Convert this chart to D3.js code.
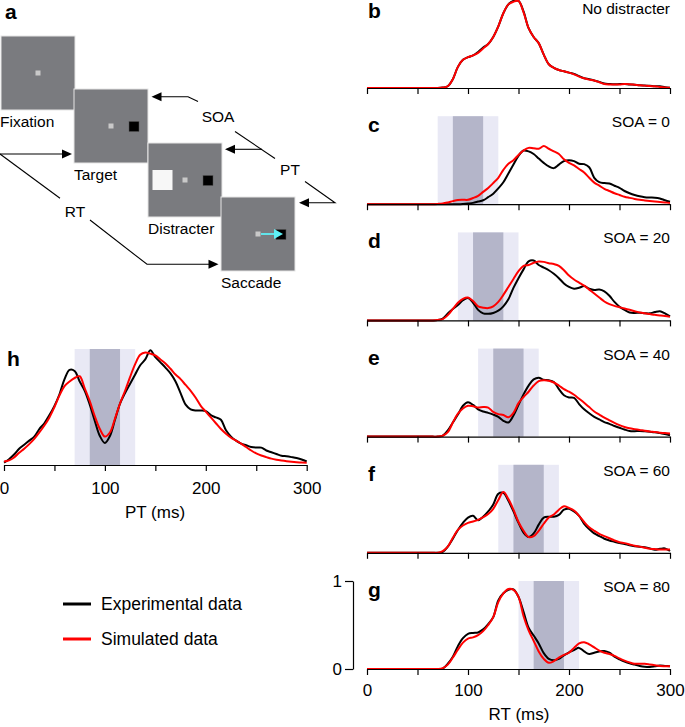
<!DOCTYPE html>
<html><head><meta charset="utf-8">
<script src="https://cdn.jsdelivr.net/npm/d3@7"></script>
<style>body{margin:0;background:#fff}svg{display:block;font-family:"Liberation Sans",Arial,sans-serif}</style>
</head><body><svg id="c" width="685" height="727"></svg>
<script>
// ---------- DATA ----------
const timeGrid = d3.range(0, 301, 5); // ms
const z = n => Array(n).fill(0);
const panelLetters = ["b","c","d","e","f","g"];
const panelTitles = ["No distracter","SOA = 0","SOA = 20","SOA = 40","SOA = 60","SOA = 80"];
const soaValues = [null, 0, 20, 40, 60, 80];
const ptWindowOuter = [70, 130];
const ptWindowInner = [85, 115];
const rtTicks = [0,50,100,150,200,250,300];
const rtTickLabels = [0,100,200,300];
const yTickLabels = [0,1];
const legendLabels = ["Experimental data","Simulated data"];

const expB = [...z(15),0.005,0.02,0.10,0.24,0.32,0.35,0.37,0.41,0.46,0.50,0.58,0.70,0.85,0.95,0.99,0.99,0.87,0.68,0.58,0.51,0.38,0.27,0.23,0.205,0.19,0.175,0.16,0.135,0.11,0.10,0.085,0.07,0.05,0.045,0.042,0.045,0.045,0.04,0.037,0.03,0.027,0.025,0.02,0.02,0.01,0.004];
const simB = [...z(15),0.005,0.02,0.10,0.24,0.32,0.35,0.37,0.40,0.45,0.50,0.58,0.70,0.85,0.95,0.98,0.99,0.86,0.68,0.58,0.51,0.38,0.27,0.23,0.205,0.19,0.175,0.155,0.13,0.11,0.095,0.085,0.065,0.045,0.04,0.04,0.04,0.045,0.043,0.037,0.03,0.027,0.022,0.02,0.012,0.006,0.003];
const expC = [...z(19),0.003,0.008,0.015,0.03,0.045,0.08,0.12,0.18,0.25,0.35,0.45,0.55,0.61,0.60,0.57,0.52,0.47,0.43,0.41,0.45,0.49,0.50,0.49,0.46,0.455,0.42,0.30,0.25,0.24,0.235,0.21,0.185,0.15,0.125,0.105,0.09,0.08,0.076,0.074,0.065,0.045,0.027];
const simC = [...z(14),0.003,0.008,0.02,0.035,0.048,0.05,0.05,0.07,0.095,0.14,0.185,0.24,0.30,0.39,0.46,0.50,0.56,0.61,0.64,0.635,0.63,0.66,0.63,0.60,0.57,0.51,0.47,0.44,0.40,0.36,0.30,0.245,0.21,0.175,0.15,0.125,0.105,0.085,0.072,0.06,0.05,0.043,0.037,0.032,0.026,0.02,0.015];
const expD = [...z(14),0.003,0.02,0.08,0.13,0.175,0.23,0.255,0.20,0.12,0.08,0.075,0.085,0.11,0.16,0.24,0.37,0.48,0.58,0.67,0.68,0.63,0.60,0.57,0.53,0.48,0.42,0.38,0.36,0.37,0.39,0.36,0.345,0.35,0.33,0.28,0.21,0.155,0.12,0.09,0.085,0.087,0.082,0.08,0.095,0.105,0.08,0.045];
const simD = [...z(14),0.005,0.015,0.06,0.13,0.20,0.245,0.26,0.22,0.16,0.145,0.14,0.16,0.21,0.29,0.38,0.47,0.56,0.62,0.63,0.655,0.67,0.665,0.65,0.64,0.62,0.57,0.51,0.465,0.43,0.395,0.35,0.305,0.26,0.215,0.185,0.165,0.15,0.135,0.12,0.105,0.09,0.08,0.072,0.063,0.057,0.05,0.04];
const expE = [...z(15),0.01,0.07,0.16,0.25,0.35,0.39,0.36,0.31,0.285,0.27,0.25,0.225,0.18,0.16,0.24,0.36,0.48,0.58,0.65,0.67,0.645,0.64,0.62,0.54,0.47,0.445,0.44,0.37,0.31,0.265,0.225,0.195,0.165,0.145,0.12,0.10,0.08,0.064,0.062,0.064,0.06,0.055,0.05,0.04,0.028,0.015];
const simE = [...z(15),0.01,0.05,0.16,0.26,0.32,0.35,0.345,0.33,0.335,0.33,0.28,0.255,0.245,0.22,0.27,0.38,0.45,0.51,0.58,0.63,0.64,0.635,0.615,0.58,0.54,0.51,0.475,0.43,0.385,0.335,0.285,0.25,0.215,0.185,0.155,0.13,0.11,0.095,0.085,0.076,0.066,0.058,0.052,0.045,0.04,0.034];
const expF = [...z(15),0.01,0.07,0.16,0.26,0.34,0.40,0.42,0.37,0.41,0.47,0.55,0.67,0.68,0.59,0.47,0.34,0.23,0.18,0.22,0.32,0.40,0.41,0.41,0.43,0.49,0.50,0.47,0.42,0.33,0.27,0.22,0.19,0.16,0.14,0.125,0.11,0.10,0.085,0.075,0.07,0.062,0.05,0.035,0.045,0.05,0.02];
const simF = [...z(15),0.02,0.07,0.17,0.26,0.31,0.34,0.355,0.375,0.405,0.44,0.50,0.60,0.69,0.61,0.49,0.35,0.25,0.18,0.19,0.25,0.33,0.40,0.435,0.49,0.53,0.51,0.48,0.42,0.35,0.29,0.25,0.215,0.19,0.165,0.14,0.12,0.11,0.095,0.08,0.07,0.058,0.047,0.042,0.038,0.038,0.037];
const expG = [...z(15),0.005,0.06,0.14,0.26,0.35,0.40,0.41,0.415,0.45,0.51,0.59,0.78,0.86,0.90,0.905,0.82,0.65,0.47,0.38,0.29,0.18,0.115,0.10,0.115,0.155,0.19,0.215,0.24,0.20,0.17,0.185,0.20,0.205,0.185,0.14,0.11,0.085,0.065,0.05,0.035,0.025,0.022,0.03,0.04,0.035,0.03];
const simG = [...z(15),0.01,0.05,0.13,0.22,0.30,0.345,0.36,0.385,0.43,0.50,0.59,0.76,0.86,0.91,0.90,0.82,0.60,0.44,0.32,0.20,0.115,0.07,0.09,0.13,0.16,0.185,0.24,0.29,0.305,0.28,0.245,0.21,0.185,0.17,0.15,0.12,0.095,0.075,0.06,0.06,0.06,0.052,0.043,0.035,0.032,0.03];
const expH = [0.02,0.05,0.09,0.14,0.175,0.21,0.245,0.31,0.36,0.43,0.51,0.61,0.74,0.82,0.81,0.72,0.64,0.52,0.38,0.25,0.19,0.25,0.39,0.53,0.62,0.70,0.78,0.86,0.91,0.99,0.93,0.885,0.84,0.79,0.72,0.62,0.52,0.48,0.47,0.47,0.465,0.43,0.41,0.39,0.30,0.245,0.21,0.185,0.17,0.155,0.15,0.15,0.125,0.11,0.095,0.08,0.075,0.068,0.06,0.048,0.03];
const simH = [0.03,0.04,0.065,0.105,0.14,0.18,0.225,0.28,0.34,0.41,0.50,0.60,0.68,0.72,0.75,0.765,0.66,0.55,0.42,0.31,0.245,0.28,0.40,0.53,0.64,0.76,0.87,0.95,0.97,0.96,0.945,0.91,0.875,0.83,0.78,0.74,0.69,0.64,0.58,0.51,0.46,0.41,0.36,0.31,0.27,0.235,0.21,0.185,0.155,0.125,0.10,0.082,0.068,0.055,0.046,0.039,0.033,0.028,0.024,0.021,0.02];

const expSeries = [expB, expC, expD, expE, expF, expG];
const simSeries = [simB, simC, simD, simE, simF, simG];

// ---------- DRAW ----------
const svg = d3.select("#c");
const FONT = '"Liberation Sans",Arial,sans-serif';
const BLACK = "#000", RED = "#ff0000", LIGHT = "#e9e9f5", DARK = "#b4b5c9";

const xR = d3.scaleLinear().domain([0,300]).range([367,670]);
const base0 = 88, step = 116.2, unit = 88;

function drawCurves(g, x, y, exp, sim) {
  const line = d3.line().x((d,i)=>x(timeGrid[i])).y(d=>y(d)).curve(d3.curveCatmullRom.alpha(0.5));
  g.append("path").attr("d", line(exp)).attr("fill","none").attr("stroke",BLACK).attr("stroke-width",2);
  g.append("path").attr("d", line(sim)).attr("fill","none").attr("stroke",RED).attr("stroke-width",2);
}
function drawBands(g, x, y, shift) {
  g.append("rect").attr("x",x(ptWindowOuter[0]+shift)).attr("width",x(ptWindowOuter[1]+shift)-x(ptWindowOuter[0]+shift))
    .attr("y",y(1)).attr("height",y(0)-y(1)).attr("fill",LIGHT);
  g.append("rect").attr("x",x(ptWindowInner[0]+shift)).attr("width",x(ptWindowInner[1]+shift)-x(ptWindowInner[0]+shift))
    .attr("y",y(1)).attr("height",y(0)-y(1)).attr("fill",DARK);
}

panelLetters.forEach((L, k) => {
  const base = base0 + step*k;
  const y = d3.scaleLinear().domain([0,1]).range([base, base-unit]);
  const g = svg.append("g");
  if (soaValues[k] !== null) drawBands(g, xR, y, soaValues[k]);
  drawCurves(g, xR, y, expSeries[k], simSeries[k]);
  const ax = g.append("g").attr("transform",`translate(0,${base})`)
    .call(d3.axisBottom(xR).tickValues(rtTicks).tickSize(6).tickSizeOuter(0)
      .tickFormat(d => (k===5 && rtTickLabels.includes(d)) ? d : ""));
  ax.select(".domain").attr("stroke","#000").attr("stroke-width",1.2);
  ax.selectAll(".tick line").attr("stroke","#000").attr("stroke-width",1.2);
  ax.selectAll(".tick text").attr("font-family",FONT).attr("font-size",17).attr("fill","#000").attr("dy","1.05em");
  g.append("text").attr("x",368).attr("y",k===0 ? 18 : base-72).text(L).attr("font-family",FONT).attr("font-weight","bold").attr("font-size",21);
  g.append("text").attr("x",670).attr("y",k===0 ? 14 : base-77).attr("text-anchor","end").text(panelTitles[k]).attr("font-family",FONT).attr("font-size",15.5);
  if (k===5) {
    const ay = g.append("g").attr("transform","translate(353,0)")
      .call(d3.axisLeft(y).tickValues(yTickLabels).tickSize(8).tickSizeOuter(0).tickFormat(d3.format("d")));
    ay.select(".domain").attr("stroke","#000").attr("stroke-width",1.2);
    ay.selectAll(".tick line").attr("stroke","#000").attr("stroke-width",1.2);
    ay.selectAll(".tick text").attr("font-family",FONT).attr("font-size",17).attr("fill","#000").attr("x",-11);
    g.append("text").attr("x",519).attr("y",720).attr("text-anchor","middle").text("RT (ms)").attr("font-family",FONT).attr("font-size",17);
  }
});

// panel h
(function(){
  const x = d3.scaleLinear().domain([0,300]).range([4,306.7]);
  const y = d3.scaleLinear().domain([0,1]).range([465,349]);
  const g = svg.append("g");
  drawBands(g, x, y, 0);
  drawCurves(g, x, y, expH, simH);
  const ax = g.append("g").attr("transform","translate(0,465)")
    .call(d3.axisBottom(x).tickValues(rtTicks).tickSize(6).tickSizeOuter(0)
      .tickFormat(d => rtTickLabels.includes(d) ? d : ""));
  ax.select(".domain").attr("stroke","#000").attr("stroke-width",1.2);
  ax.selectAll(".tick line").attr("stroke","#000").attr("stroke-width",1.2);
  ax.selectAll(".tick text").attr("font-family",FONT).attr("font-size",17).attr("fill","#000").attr("dy","1.2em");
  g.append("text").attr("x",155).attr("y",518).attr("text-anchor","middle").text("PT (ms)").attr("font-family",FONT).attr("font-size",17);
  g.append("text").attr("x",7).attr("y",366).text("h").attr("font-family",FONT).attr("font-weight","bold").attr("font-size",21);
})();

// legend
legendLabels.forEach((t,i) => {
  const yy = 604 + 35*i;
  svg.append("line").attr("x1",63).attr("x2",91).attr("y1",yy).attr("y2",yy).attr("stroke",i?RED:BLACK).attr("stroke-width",3);
  svg.append("text").attr("x",101).attr("y",yy+6).text(t).attr("font-family",FONT).attr("font-size",17.5);
});

// panel a (schematic)
const boxNames = ["Fixation","Target","Distracter","Saccade"];
const boxX = [1,74,148,221], boxY = [36,89,143,197], BS = 74;
const sa = svg.append("g");
sa.append("text").attr("x",5).attr("y",19).text("a").attr("font-family",FONT).attr("font-weight","bold").attr("font-size",21);
boxNames.forEach((n,i) => {
  const bx = boxX[i], by = boxY[i];
  sa.append("rect").attr("x",bx).attr("y",by).attr("width",BS).attr("height",BS).attr("fill","#7a7b7f").attr("stroke","#e6e6e6").attr("stroke-width",1);
  sa.append("rect").attr("x",bx+34.5).attr("y",by+34.5).attr("width",5).attr("height",5).attr("fill","#c9c9c9");
  if (i>=1) sa.append("rect").attr("x",bx+55).attr("y",by+32.5).attr("width",10).attr("height",10).attr("fill","#000").attr("stroke","#555").attr("stroke-width",0.5);
  if (i===2) sa.append("rect").attr("x",bx+4.5).attr("y",by+27).attr("width",20).attr("height",20).attr("fill","#f7f7f7");
  sa.append("text").attr("x",bx-(i===0?1:0)).attr("y",by+BS+17).text(n).attr("font-family",FONT).attr("font-size",15.5);
});
// cyan saccade arrow
sa.append("line").attr("x1",boxX[3]+40).attr("y1",boxY[3]+37).attr("x2",boxX[3]+55).attr("y2",boxY[3]+37).attr("stroke","#5ff0f5").attr("stroke-width",1.8);
sa.append("path").attr("d",`M${boxX[3]+62},${boxY[3]+37} L${boxX[3]+53},${boxY[3]+32} L${boxX[3]+53},${boxY[3]+42} Z`).attr("fill","#5ff0f5");

function arrowHead(tx, ty) {
  sa.append("path").attr("d",`M${tx},${ty} L${tx+10},${ty-4.5} L${tx+10},${ty+4.5} Z`).attr("fill","#000");
}
function arrowHeadRight(tx, ty) {
  sa.append("path").attr("d",`M${tx},${ty} L${tx-10},${ty-4.5} L${tx-10},${ty+4.5} Z`).attr("fill","#000");
}
function poly(pts) {
  sa.append("path").attr("d", d3.line()(pts)).attr("fill","none").attr("stroke","#000").attr("stroke-width",1.1);
}
// SOA
poly([[198,101.5],[188,96.7],[158,96.7]]); arrowHead(151.5,96.7);
sa.append("text").attr("x",218).attr("y",122).attr("text-anchor","middle").text("SOA").attr("font-family",FONT).attr("font-size",15.5);
poly([[235,131.5],[275,158.5]]);
poly([[262,149.3],[232,149.3]]); arrowHead(225,149.3);
// PT
sa.append("text").attr("x",290).attr("y",175).attr("text-anchor","middle").text("PT").attr("font-family",FONT).attr("font-size",15.5);
poly([[305,181.5],[335,202.7],[306,202.7]]); arrowHead(299,202.7);
// RT
poly([[0,154],[66,154]]); arrowHeadRight(72,154);
poly([[0,154],[60,198.3]]);
sa.append("text").attr("x",75).attr("y",217).attr("text-anchor","middle").text("RT").attr("font-family",FONT).attr("font-size",15.5);
poly([[90,220],[147,264.3],[212,264.3]]); arrowHeadRight(218.5,264.3);
</script></body></html>
